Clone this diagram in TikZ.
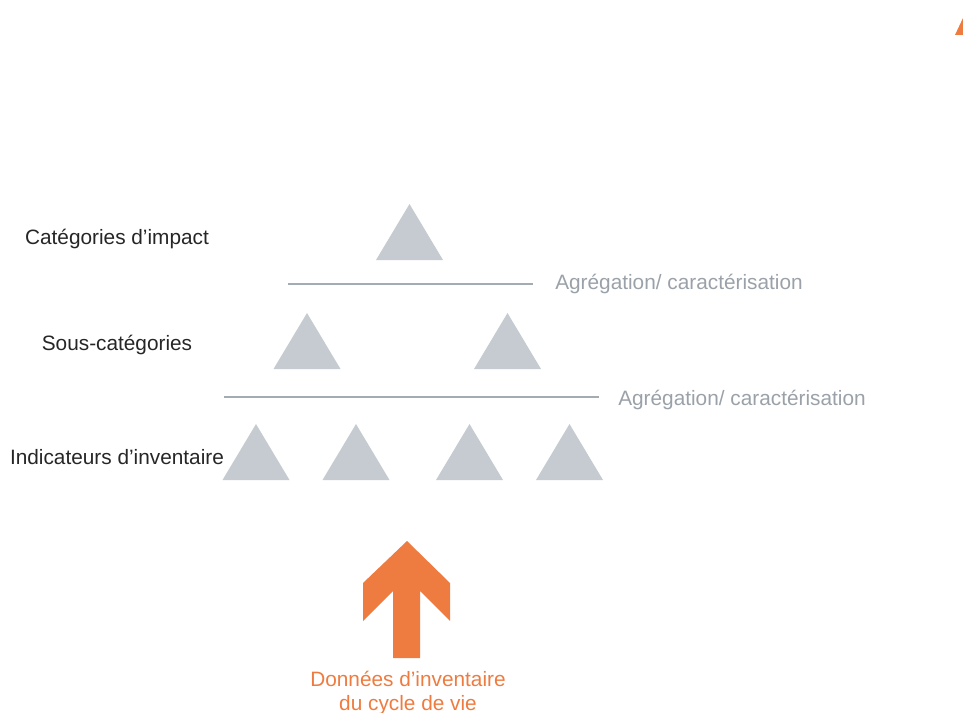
\documentclass[tikz,border=0pt]{standalone}
\usepackage{fontspec}
\setmainfont{Liberation Sans}
\usepackage{xcolor}
\usetikzlibrary{positioning}

\definecolor{trigray}{HTML}{C5CBD0}
\definecolor{linegray}{HTML}{A3ABB3}
\definecolor{labgray}{HTML}{9AA1A8}
\definecolor{orng}{HTML}{EE7B3F}

\tikzset{
  tri/.pic={\fill[trigray] (-33.5,28) -- (33.5,28) -- (0,-28) -- cycle;},
  level/.style={text=black!85, inner sep=0pt, font=\fontsize{15.6}{18}\selectfont},
  aggr/.style={text=labgray, inner sep=0pt, anchor=west, font=\fontsize{15.6}{18}\selectfont},
  sep/.style={draw=linegray, line width=1.3pt}
}

\begin{document}
\begin{tikzpicture}[x=0.75pt,y=-0.75pt]
  \useasboundingbox (0,0) rectangle (963,713);

  % levels
  \node[level] (CaIm) at (117,239) {Catégories d’impact};
  \node[level] (SoCa) at (117,345) {Sous-catégories};
  \node[level] (InIn) at (117,457) {Indicateurs d’inventaire};

  % triangles
  \coordinate (T1) at (409.5,232);
  \coordinate (S1) at (307,341);
  \coordinate (S2) at (507.5,341);
  \coordinate (I1) at (256,452);
  \coordinate (I2) at (356,452);
  \coordinate (I3) at (469.5,452);
  \coordinate (I4) at (569.5,452);
  \foreach \t in {T1,S1,S2,I1,I2,I3,I4}
    \pic at (\t) {tri};

  % separators
  \coordinate (LaA) at (288,284);
  \coordinate (LbA) at (533,284);
  \coordinate (LaB) at (224,397);
  \coordinate (LbB) at (599,397);
  \draw[sep] (LaA) -- (LbA);
  \draw[sep] (LaB) -- (LbB);
  \node[aggr] (AgA) at (555,284) {Agrégation/ caractérisation};
  \node[aggr] (AgB) at (618,400) {Agrégation/ caractérisation};

  % inventory arrow
  \fill[orng] (407,541) -- (450,583) -- (450,621) -- (420,591) -- (420,658)
    -- (393,658) -- (393,591) -- (363,621) -- (363,583) -- cycle;
  \node[text=orng, align=center, inner sep=0pt, font=\fontsize{15.6}{18}\selectfont]
    (DoIn) at (408,693) {Données d’inventaire\\du cycle de vie};

  % corner mark
  \fill[orng] (955,35) -- (963,18) -- (963,35) -- cycle;

\end{tikzpicture}
\end{document}
